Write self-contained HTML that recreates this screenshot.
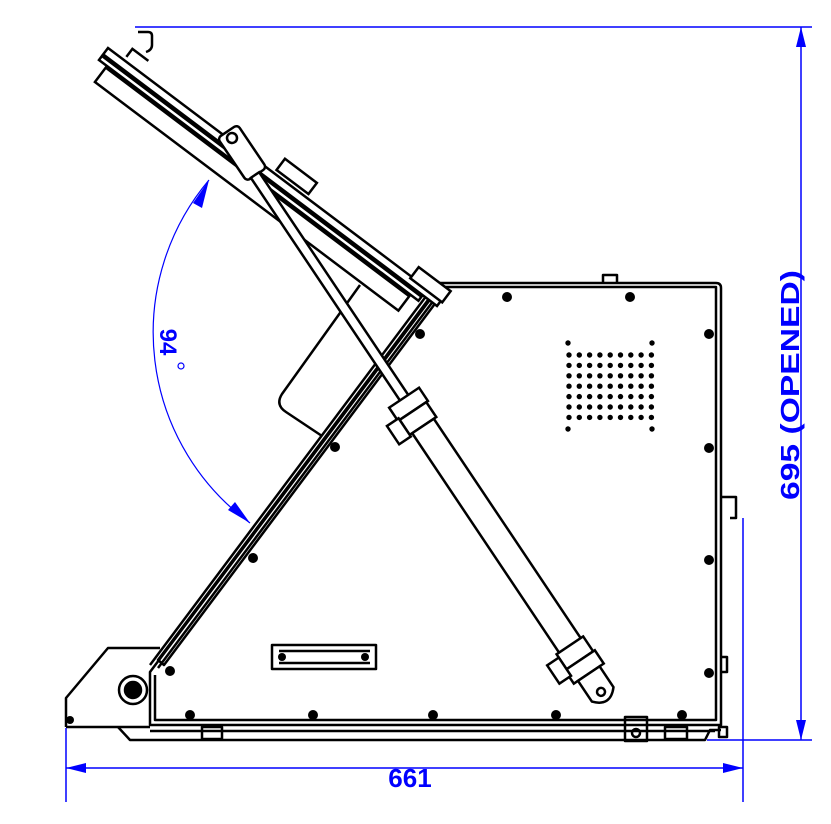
<!DOCTYPE html>
<html><head><meta charset="utf-8"><style>
html,body{margin:0;padding:0;background:#fff;}
svg{display:block;}
</style></head><body>
<svg width="831" height="824" viewBox="0 0 831 824" xmlns="http://www.w3.org/2000/svg">
<defs>
<marker id="ar" markerWidth="20" markerHeight="10" refX="20" refY="5" orient="auto" markerUnits="userSpaceOnUse">
<path d="M0,0 L20,5 L0,10 Z" fill="#0000ff"/>
</marker>
<g id="row">
<circle cx="569" cy="0" r="2.7"/><circle cx="579.3" cy="0" r="2.7"/><circle cx="589.6" cy="0" r="2.7"/><circle cx="599.9" cy="0" r="2.7"/><circle cx="610.2" cy="0" r="2.7"/><circle cx="620.5" cy="0" r="2.7"/><circle cx="630.8" cy="0" r="2.7"/><circle cx="641.1" cy="0" r="2.7"/><circle cx="651.4" cy="0" r="2.7"/>
</g>
</defs>
<g fill="none" stroke="#000" stroke-width="2.5" stroke-linejoin="round">
<path d="M360,285 L282,394 Q275,405 286,412 L322,436"/>
<path d="M440,283 L716,283 Q721,283 721,288 L721,725 L150,725 L150,672 L438,289"/>
<path d="M444,287 L716,287 L716,720 L155,720 L155,675"/>
<path d="M436,283 L150,665"/>
<path d="M443,288 L158,668"/>
<path d="M428,300 L158,660 L164,665 L434,305"/>
<path d="M603,283 L603,275 L617,275 L617,283"/>
<path d="M721,497 L736,497 L736,518 L730,518"/>
<path d="M721,657 L727,657 L727,672 L721,672"/>
<path d="M118,727 L130,740 L705,740 L710,730 L721,730"/>
<path d="M150,731 L715,731"/>
<rect x="202" y="727" width="20" height="12"/>
<rect x="665" y="727" width="22" height="12"/>
<rect x="625" y="717" width="22" height="24"/>
<circle cx="636" cy="733" r="4"/>
<rect x="719" y="727" width="8" height="10"/>
<path d="M66,727 L66,698 L108,648 L160,648"/>
<path d="M66,727 L150,727"/>
<circle cx="133" cy="690" r="14"/>
<circle cx="133" cy="690" r="8" fill="#000"/>
<rect x="272" y="645" width="104" height="24"/>
<line x1="279" y1="651" x2="370" y2="651"/>
<line x1="279" y1="663" x2="370" y2="663"/>
</g>
<g fill="#000">
<circle cx="70" cy="720" r="4"/>
<circle cx="282" cy="657" r="4"/><circle cx="365" cy="657" r="4"/>
<circle cx="507" cy="297" r="5"/><circle cx="630" cy="297" r="5"/>
<circle cx="709" cy="334" r="5"/><circle cx="709" cy="448" r="5"/>
<circle cx="709" cy="560" r="5"/><circle cx="709" cy="673" r="5"/>
<circle cx="682" cy="715" r="5"/><circle cx="556" cy="715" r="5"/>
<circle cx="433" cy="715" r="5"/><circle cx="313" cy="715" r="5"/>
<circle cx="190" cy="715" r="5"/><circle cx="170" cy="671" r="5"/>
<circle cx="253" cy="558" r="5"/><circle cx="335" cy="447" r="5"/>
<circle cx="420" cy="334" r="5"/>
<circle cx="568" cy="343" r="2.7"/><circle cx="652" cy="343" r="2.7"/>
<circle cx="568" cy="429" r="2.7"/><circle cx="652" cy="429" r="2.7"/>
<use href="#row" y="355"/><use href="#row" y="365.4"/><use href="#row" y="375.8"/><use href="#row" y="386.2"/><use href="#row" y="396.6"/><use href="#row" y="407"/><use href="#row" y="417.4"/>
</g>
<g transform="translate(108,48) rotate(37)" fill="#fff" stroke="#000" stroke-width="2.5">
<rect x="0" y="0" width="418" height="8"/>
<rect x="0" y="10" width="400" height="5"/>
<rect x="10" y="17" width="380" height="18"/>
<rect x="208" y="-18" width="40" height="14"/>
<rect x="380" y="-12" width="40" height="14"/>
<path d="M20,-4 L20,-14 L40,-14" fill="none"/>
</g>
<path d="M138,32 L148,32 Q152,32 152,36 L152,45 Q152,50 146,52" fill="none" stroke="#000" stroke-width="2.5"/>
<g transform="translate(232,138) rotate(56)" fill="#fff" stroke="#000" stroke-width="2.5">
<rect x="-8" y="-12" width="52" height="24" rx="4"/>
<circle cx="0" cy="0" r="5"/>
</g>
<g transform="translate(255,175) rotate(56.2)" fill="#fff" stroke="#000" stroke-width="2.5">
<rect x="0" y="-5" width="270" height="10"/>
<rect x="268" y="-18" width="16" height="36"/>
<rect x="284" y="-16" width="18" height="32"/>
<rect x="282" y="16" width="22" height="14"/>
<rect x="302" y="-13" width="266" height="26"/>
<rect x="566" y="-16" width="18" height="32"/>
<rect x="584" y="-18" width="16" height="36"/>
<rect x="570" y="16" width="22" height="14"/>
<path d="M600,-13 L625,-13 Q640,0 625,13 L600,13 Z"/>
<circle cx="622" cy="0" r="4"/>
</g>
<g stroke="#0000ff" stroke-width="1.5" fill="none">
<line x1="135" y1="27" x2="812" y2="27"/>
<line x1="707" y1="740" x2="812" y2="740"/>
<line x1="801" y1="50" x2="801" y2="27" marker-end="url(#ar)"/>
<line x1="801" y1="700" x2="801" y2="740" marker-end="url(#ar)"/>
<line x1="801" y1="50" x2="801" y2="700"/>
<line x1="66" y1="728" x2="66" y2="802"/>
<line x1="743" y1="518" x2="743" y2="802"/>
<line x1="400" y1="768" x2="66" y2="768" marker-end="url(#ar)"/>
<line x1="400" y1="768" x2="743" y2="768" marker-end="url(#ar)"/>
<path d="M209,180 A236,236 0 0 0 250,523" stroke-width="1.2"/>
</g>
<path d="M209,180 L193,203 L202,208 Z" fill="#0000ff"/>
<path d="M250,523 L228,510 L235,502 Z" fill="#0000ff"/>
<text x="410" y="787" font-family="Liberation Sans, sans-serif" font-weight="bold" font-size="26" fill="#0000ff" text-anchor="middle">661</text>
<text transform="translate(799,385) rotate(-90)" font-family="Liberation Sans, sans-serif" font-weight="bold" font-size="26" fill="#0000ff" text-anchor="middle" textLength="230" lengthAdjust="spacingAndGlyphs">695 (OPENED)</text>
<text transform="translate(160,342) rotate(90)" font-family="Liberation Sans, sans-serif" font-weight="bold" font-size="24" fill="#0000ff" text-anchor="middle">94</text>
<circle cx="181" cy="366" r="3" fill="none" stroke="#0000ff" stroke-width="1.2"/>
</svg>
</body></html>
